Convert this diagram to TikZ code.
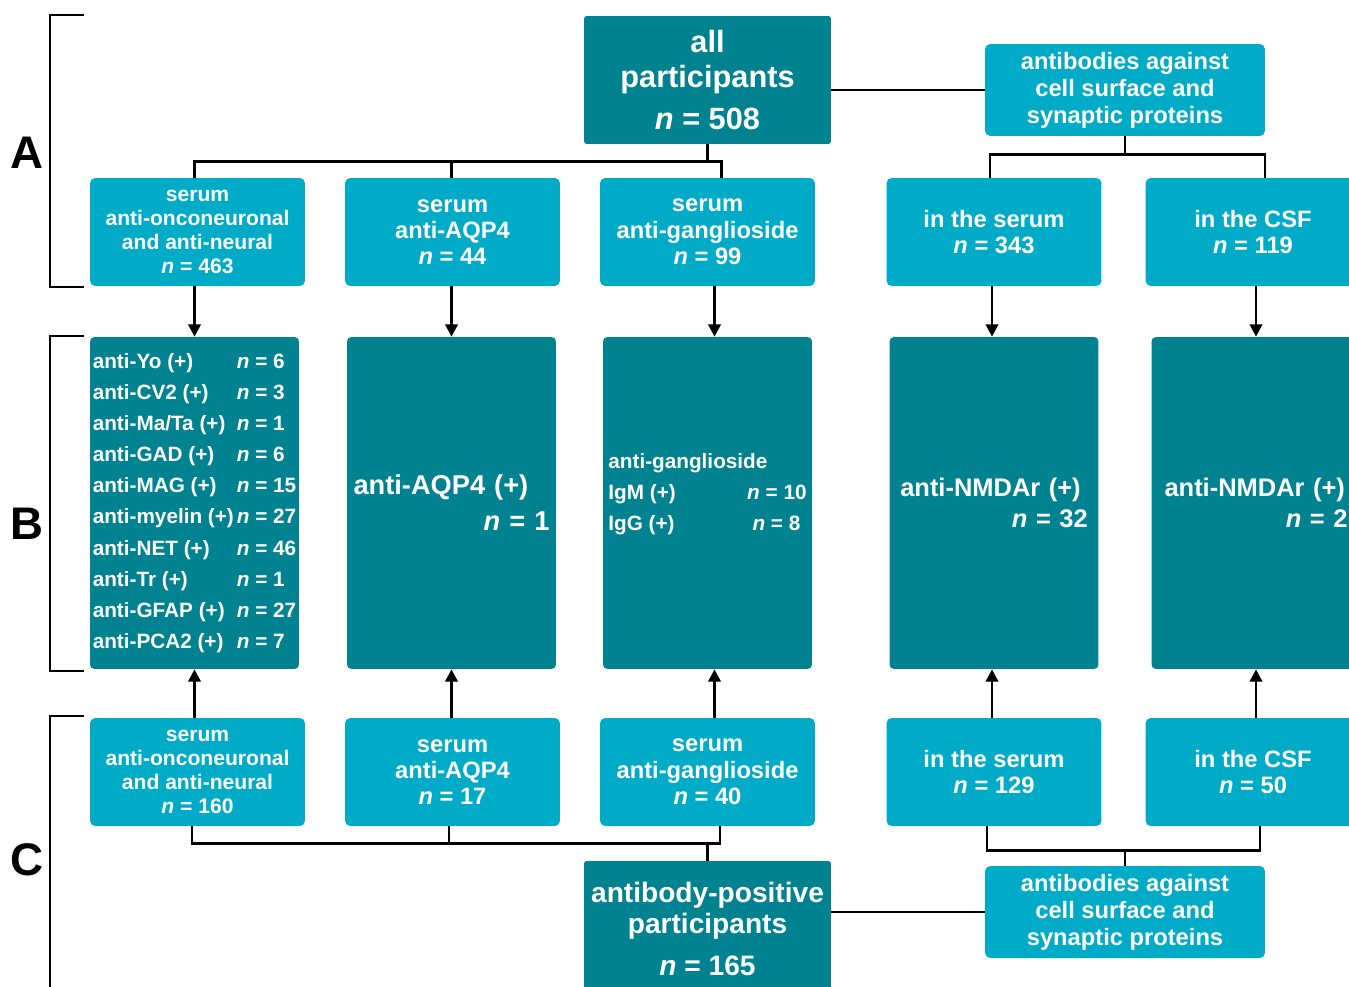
\documentclass[tikz,border=0pt]{standalone}
\usepackage{fontspec}
\setmainfont{Liberation Sans}
\usetikzlibrary{arrows.meta, calc}
\definecolor{tealdark}{RGB}{0,130,145}
\definecolor{cyanlight}{RGB}{0,171,199}
\newcommand{\nval}[1]{\textit{n} = #1}
\newcommand{\abrow}[3]{\makebox[#1][l]{#2}\nval{#3}}
\tikzset{
  lightbox/.style={
    rectangle, rounded corners=3pt, fill=cyanlight, text=white,
    align=center, minimum width=4.3cm, minimum height=2.16cm, inner sep=0pt,
    font=\fontsize{13.5}{15}\selectfont\bfseries
  },
  lightsmall/.style={
    lightbox, font=\fontsize{12}{13.6}\selectfont\bfseries
  },
  surfbox/.style={
    lightbox, minimum width=5.6cm, minimum height=1.84cm,
    font=\fontsize{13.5}{15.3}\selectfont\bfseries
  },
  darkbox/.style={
    rectangle, rounded corners=2.5pt, fill=tealdark, text=white,
    minimum width=4.18cm, minimum height=6.64cm, inner sep=0pt,
    font=\fontsize{11.8}{17.7}\selectfont\bfseries
  },
  mainbox/.style={
    rectangle, rounded corners=1.5pt, fill=tealdark, text=white,
    align=center, minimum width=4.94cm, inner sep=0pt
  },
  link/.style={line width=1.6pt, black},
  arrow/.style={link, -{Triangle[width=7pt,length=7pt]}},
  bracketline/.style={line width=1.6pt, black},
  sectionlabel/.style={font=\fontsize{26}{26}\selectfont\bfseries}
}
\begin{document}
\begin{tikzpicture}[x=0.02cm, y=-0.02cm]
\useasboundingbox (0,0) rectangle (1349,987);
\clip (0,0) rectangle (1349,987);

% section brackets
\draw[bracketline] (84,15) -- (50,15) -- (50,287) -- (84,287);
\draw[bracketline] (84,336) -- (50,336) -- (50,671) -- (84,671);
\draw[bracketline] (84,716) -- (50,716) -- (50,1000);
\node[sectionlabel] (secA) at (27,153) {A};
\node[sectionlabel] (secB) at (27,524) {B};
\node[sectionlabel] (secC) at (27,860) {C};

% top
\node[mainbox, minimum height=2.56cm, font=\fontsize{17.5}{20}\selectfont\bfseries] (allpart) at (707.5,80)
  {all\\participants\\[4pt]\nval{508}};
\node[surfbox] (abtop) at (1125,90) {antibodies against\\cell surface and\\synaptic proteins};

% row A
\node[lightsmall] (oncoA) at (197.5,232) {serum\\anti-onconeuronal\\and anti-neural\\\nval{463}};
\node[lightbox] (aqpA) at (452.5,232) {serum\\anti-AQP4\\\nval{44}};
\node[lightbox] (gangA) at (707.5,232) {serum\\anti-ganglioside\\\nval{99}};
\node[lightbox] (serA) at (994,232) {in the serum\\\nval{343}};
\node[lightbox] (csfA) at (1253,232) {in the CSF\\\nval{119}};

% row B
\node[darkbox, align=left] (oncoB) at (194.5,503) {%
  \abrow{82pt}{anti-Yo (+)}{6}\\
  \abrow{82pt}{anti-CV2 (+)}{3}\\
  \abrow{82pt}{anti-Ma/Ta (+)}{1}\\
  \abrow{82pt}{anti-GAD (+)}{6}\\
  \abrow{82pt}{anti-MAG (+)}{15}\\
  \abrow{82pt}{anti-myelin (+)}{27}\\
  \abrow{82pt}{anti-NET (+)}{46}\\
  \abrow{82pt}{anti-Tr (+)}{1}\\
  \abrow{82pt}{anti-GFAP (+)}{27}\\
  \abrow{82pt}{anti-PCA2 (+)}{7}};
\node[darkbox, align=left, text width=3.92cm, font=\fontsize{15.5}{20.4}\selectfont\bfseries] (aqpB) at (451.5,503)
  {anti-AQP4 (+)\\\hspace*{\fill}\nval{1}};
\node[darkbox, align=left] (gangB) at (707.5,503)
  {anti-ganglioside\\\abrow{79pt}{IgM (+)}{10}\\\abrow{82pt}{IgG (+)}{8}\\[-5pt]};
\node[darkbox, align=left, text width=3.75cm, font=\fontsize{14.5}{17.6}\selectfont\bfseries] (serB) at (994,503)
  {anti-NMDAr (+)\\\hspace*{\fill}\nval{32}};
\node[darkbox, align=left, text width=3.66cm, font=\fontsize{14.5}{17.6}\selectfont\bfseries] (csfB) at (1256,503)
  {anti-NMDAr (+)\\\hspace*{\fill}\nval{2}};

% row C
\node[lightsmall] (oncoC) at (197.5,772) {serum\\anti-onconeuronal\\and anti-neural\\\nval{160}};
\node[lightbox] (aqpC) at (452.5,772) {serum\\anti-AQP4\\\nval{17}};
\node[lightbox] (gangC) at (707.5,772) {serum\\anti-ganglioside\\\nval{40}};
\node[lightbox] (serC) at (994,772) {in the serum\\\nval{129}};
\node[lightbox] (csfC) at (1253,772) {in the CSF\\\nval{50}};

% bottom
\node[mainbox, minimum height=2.72cm, font=\fontsize{16}{18}\selectfont\bfseries] (abpos) at (707.5,929)
  {antibody-positive\\participants\\[6pt]\nval{165}};
\node[surfbox] (abbot) at (1125,912) {antibodies against\\cell surface and\\synaptic proteins};

% tree under all participants
\coordinate (jA) at (0,162);
\draw[link] (allpart.south) -- (allpart.south |- jA);
\draw[link] (oncoA.north -| oncoB) |- ($(gangA.north)+(14,-16)$) -- ($(gangA.north)+(14,0)$);
\draw[link] (aqpA.north -| aqpB) -- (aqpB |- jA);
\draw[link] (abtop.west) -- (abtop.west -| allpart.east);
\coordinate (jS) at (0,155);
\draw[link] (abtop.south) -- (abtop.south |- jS);
\draw[link] ($(serA.north)+(-4,0)$) |- ($(csfA.north)+(12,-23)$) -- ($(csfA.north)+(12,0)$);

% arrows into row B
\foreach \a/\b/\c/\dx in {oncoA/oncoB/oncoC/0, aqpA/aqpB/aqpC/0, gangA/gangB/gangC/7, serA/serB/serC/-2, csfA/csfB/csfC/0} {
  \draw[arrow] ($(\a.south -| \b)+(\dx,0)$) -- ($(\b.north)+(\dx,0)$);
  \draw[arrow] ($(\c.north -| \b)+(\dx,0)$) -- ($(\b.south)+(\dx,0)$);
}

% tree above antibody-positive participants
\coordinate (jC) at (0,843);
\draw[link] ($(oncoC.south)+(-5.5,0)$) |- ($(gangC.south)+(12.5,17)$) -- ($(gangC.south)+(12.5,0)$);
\draw[link] ($(aqpC.south)+(-3.5,0)$) -- ($(aqpC.south)+(-3.5,17)$);
\draw[link] (abpos.north) -- (abpos.north |- jC);
\coordinate (jR) at (0,850);
\draw[link] ($(serC.south)+(-7,0)$) |- ($(csfC.south)+(7,24)$) -- ($(csfC.south)+(7,0)$);
\draw[link] (abbot.north) -- (abbot.north |- jR);
\draw[link] (abpos.east |- abbot) -- (abbot.west);
\end{tikzpicture}
\end{document}
